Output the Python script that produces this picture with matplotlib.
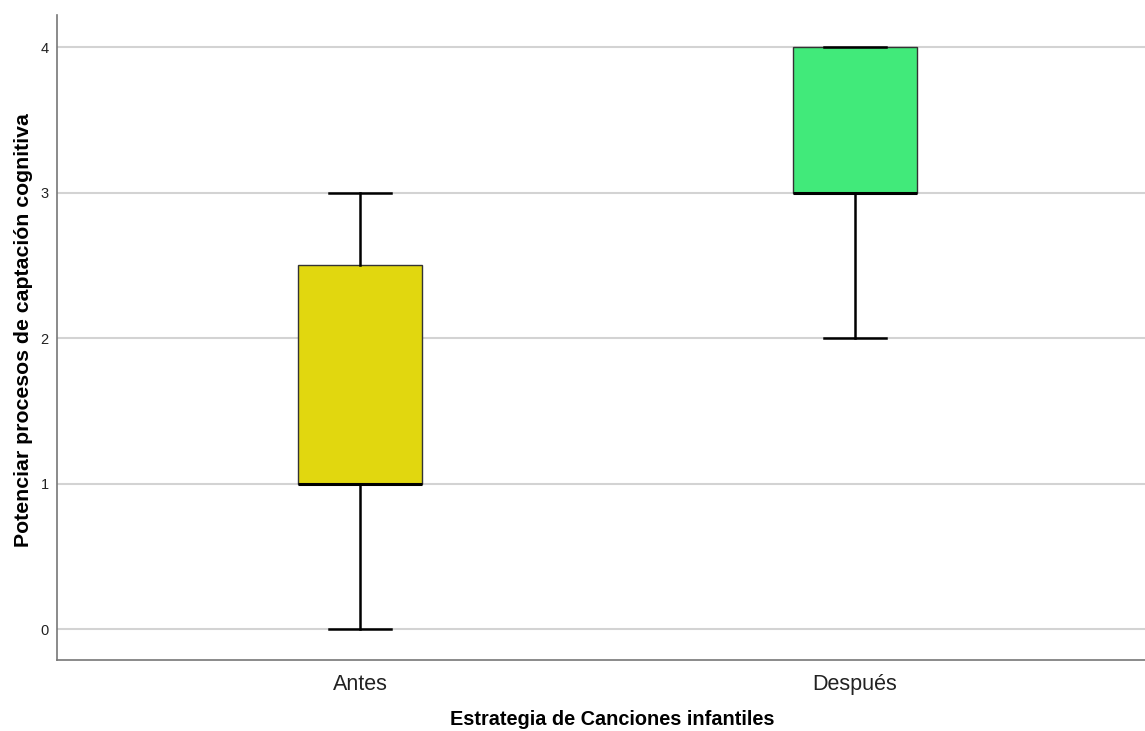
import matplotlib.pyplot as plt

plt.rcParams['font.family'] = ['Liberation Sans', 'DejaVu Sans']

groups = ['Antes', 'Después']
whisker_low = [0, 2]
q1 = [1, 3]
median = [1, 3]
q3 = [2.5, 4]
whisker_high = [3, 4]
box_colors = ['#E1D70F', '#41EA7A']

stats = []
for i, name in enumerate(groups):
    stats.append({
        'label': name,
        'whislo': whisker_low[i],
        'q1': q1[i],
        'med': median[i],
        'q3': q3[i],
        'whishi': whisker_high[i],
        'fliers': [],
    })

fig = plt.figure(figsize=(11.45, 7.31), dpi=100)
ax = fig.add_axes([57 / 1145, 1 - 660 / 731, 1 - 57 / 1145, 645 / 731])

for y in range(5):
    ax.axhline(y, color='#D3D3D3', linewidth=1.5, zorder=0)

bp = ax.bxp(stats, positions=[0, 1], widths=0.249, patch_artist=True,
            showfliers=False,
            boxprops=dict(edgecolor='#333333', linewidth=1.0),
            medianprops=dict(color='black', linewidth=2.2),
            whiskerprops=dict(color='black', linewidth=1.8),
            capprops=dict(color='black', linewidth=1.8),
            capwidths=0.125)

for patch, c in zip(bp['boxes'], box_colors):
    patch.set_facecolor(c)
    patch.set_zorder(2)

ax.set_xlim(-0.612, 1.586)
ax.set_ylim(-0.213, 4.22)
ax.set_yticks([0, 1, 2, 3, 4])
ax.set_xticks([0, 1])
ax.set_xticklabels(groups, fontsize=15.5, color='#222222')
ax.tick_params(axis='y', length=0, labelsize=10.5, pad=6, colors='#222222')
ax.tick_params(axis='x', length=0, pad=10)

for side in ['top', 'right']:
    ax.spines[side].set_visible(False)
for side in ['left', 'bottom']:
    ax.spines[side].set_color('#777777')
    ax.spines[side].set_linewidth(1.2)

ax.set_xlabel('Estrategia de Canciones infantiles', fontsize=14.3,
              fontweight='bold')
ax.set_ylabel('Potenciar procesos de captación cognitiva', fontsize=15.3,
              fontweight='bold')
ax.xaxis.set_label_coords(0.51, -0.077)
ax.yaxis.set_label_coords(-0.022, 0.512)

fig.savefig('out.png', dpi=100)
